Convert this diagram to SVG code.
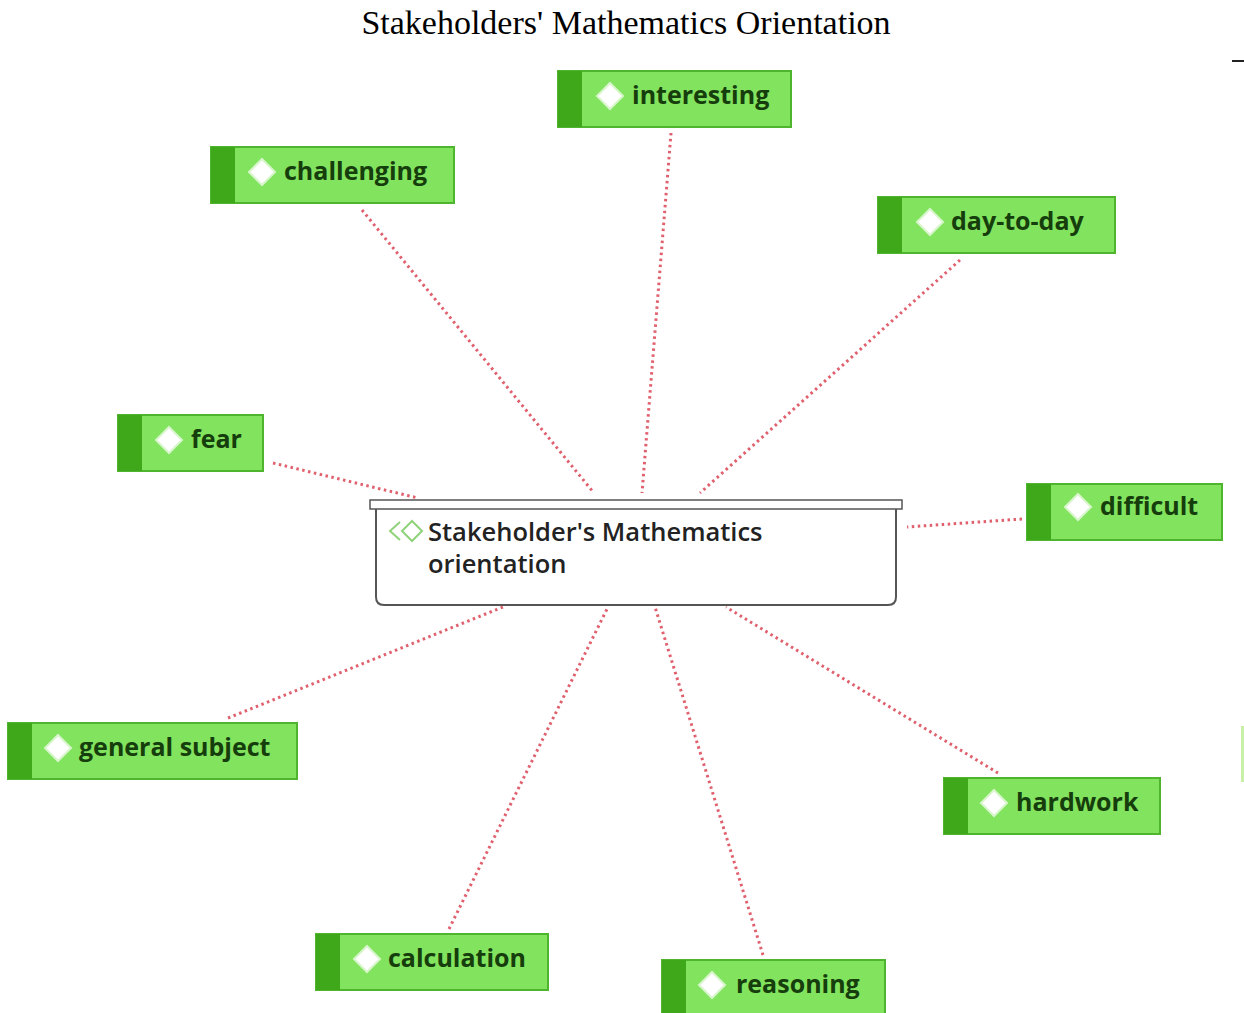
<svg xmlns="http://www.w3.org/2000/svg" width="1244" height="1013" viewBox="0 0 1244 1013">
<style>
.title{font-family:"Liberation Serif",serif;font-size:34px;fill:#000}
.box{fill:#82e35e;stroke:#4fb52f;stroke-width:2}
.stripe{fill:#3ea81a}
.dia{fill:#fff;stroke:#d8f5cc;stroke-width:2}
.lbl{font-family:"Open Sans","DejaVu Sans",sans-serif;font-weight:700;font-size:25px;fill:#163d0c}
.edge{stroke:#e0606e;stroke-width:3;stroke-dasharray:2.5 3.5;fill:none}
.ctext{font-family:"Open Sans","DejaVu Sans",sans-serif;font-weight:600;font-size:25.5px;fill:#222}
</style>
<rect width="1244" height="1013" fill="#fff"/>
<text class="title" x="626" y="34" text-anchor="middle">Stakeholders' Mathematics Orientation</text>
<line x1="1232" y1="61" x2="1244" y2="61" stroke="#222" stroke-width="2"/>
<rect x="1241" y="726" width="3" height="56" fill="#c8f0a8"/>
<g id="connectors">
<line class="edge" x1="362" y1="210" x2="594" y2="493"/>
<line class="edge" x1="671" y1="133" x2="642" y2="493"/>
<line class="edge" x1="960" y1="260" x2="700" y2="493"/>
<line class="edge" x1="273" y1="463" x2="418" y2="498"/>
<line class="edge" x1="1022" y1="519" x2="907" y2="527"/>
<line class="edge" x1="228" y1="718" x2="503" y2="607"/>
<line class="edge" x1="998" y1="773" x2="726" y2="607"/>
<line class="edge" x1="449" y1="929" x2="608" y2="607"/>
<line class="edge" x1="763" y1="955" x2="655" y2="607"/>
</g>
<g id="center">
<path d="M376 508 V597 Q376 605 384 605 H888 Q896 605 896 597 V508" fill="#fff" stroke="#555" stroke-width="2"/>
<rect x="370" y="500" width="532" height="9" fill="#fff" stroke="#555" stroke-width="1.5"/>
<path d="M400 522 L390 531 L400 540" fill="none" stroke="#8fd27a" stroke-width="2"/>
<path d="M412 521 L402 531 L412 541 L422 531 Z" fill="#fff" stroke="#8fd27a" stroke-width="2"/>
<text class="ctext" x="428" y="541">Stakeholder's Mathematics</text>
<text class="ctext" x="428" y="573">orientation</text>
</g>
<g id="interesting">
<rect class="box" x="558" y="71" width="233" height="56"/>
<rect class="stripe" x="558" y="71" width="24" height="56"/>
<path class="dia" d="M610 83 L623 96 L610 109 L597 96 Z"/>
<text class="lbl" x="632" y="104">interesting</text>
</g>
<g id="challenging">
<rect class="box" x="211" y="147" width="243" height="56"/>
<rect class="stripe" x="211" y="147" width="24" height="56"/>
<path class="dia" d="M262 159 L275 172 L262 185 L249 172 Z"/>
<text class="lbl" x="284" y="180">challenging</text>
</g>
<g id="day-to-day">
<rect class="box" x="878" y="197" width="237" height="56"/>
<rect class="stripe" x="878" y="197" width="24" height="56"/>
<path class="dia" d="M930 209 L943 222 L930 235 L917 222 Z"/>
<text class="lbl" x="951" y="230">day-to-day</text>
</g>
<g id="fear">
<rect class="box" x="118" y="415" width="145" height="56"/>
<rect class="stripe" x="118" y="415" width="24" height="56"/>
<path class="dia" d="M169 427 L182 440 L169 453 L156 440 Z"/>
<text class="lbl" x="191" y="448">fear</text>
</g>
<g id="difficult">
<rect class="box" x="1027" y="484" width="195" height="56"/>
<rect class="stripe" x="1027" y="484" width="24" height="56"/>
<path class="dia" d="M1078 494 L1091 507 L1078 520 L1065 507 Z"/>
<text class="lbl" x="1100" y="515">difficult</text>
</g>
<g id="general-subject">
<rect class="box" x="8" y="723" width="289" height="56"/>
<rect class="stripe" x="8" y="723" width="24" height="56"/>
<path class="dia" d="M58 735 L71 748 L58 761 L45 748 Z"/>
<text class="lbl" x="79" y="756">general subject</text>
</g>
<g id="hardwork">
<rect class="box" x="944" y="778" width="216" height="56"/>
<rect class="stripe" x="944" y="778" width="24" height="56"/>
<path class="dia" d="M994 790 L1007 803 L994 816 L981 803 Z"/>
<text class="lbl" x="1016" y="811">hardwork</text>
</g>
<g id="calculation">
<rect class="box" x="316" y="934" width="232" height="56"/>
<rect class="stripe" x="316" y="934" width="24" height="56"/>
<path class="dia" d="M367 946 L380 959 L367 972 L354 959 Z"/>
<text class="lbl" x="388" y="967">calculation</text>
</g>
<g id="reasoning">
<rect class="box" x="662" y="960" width="223" height="56"/>
<rect class="stripe" x="662" y="960" width="24" height="56"/>
<path class="dia" d="M712 972 L725 985 L712 998 L699 985 Z"/>
<text class="lbl" x="736" y="993">reasoning</text>
</g>
</svg>
